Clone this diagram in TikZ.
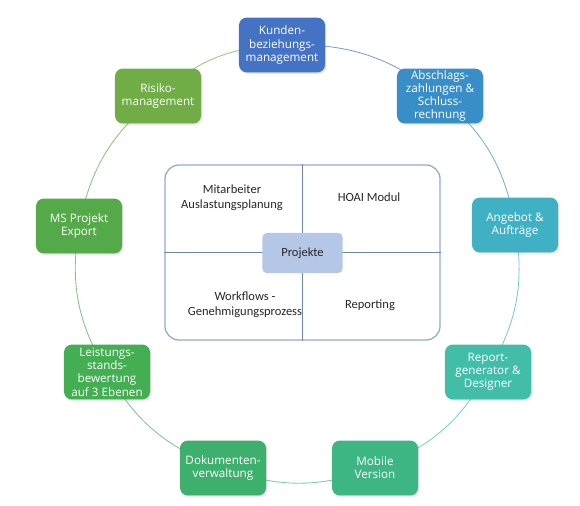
\documentclass[tikz,border=0pt]{standalone}
\usepackage{fontspec}
\setmainfont{Carlito}
\newfontfamily\modulfont{Open Sans}
\usepackage{xcolor}
\usepackage{tikz}
\usetikzlibrary{shadows,calc,backgrounds}
\definecolor{kundenblue}{RGB}{68, 114, 196}
\definecolor{abschlagblue}{RGB}{58, 142, 200}
\definecolor{angebotteal}{RGB}{64, 176, 196}
\definecolor{reportteal}{RGB}{66, 190, 168}
\definecolor{mobilegreen}{RGB}{62, 182, 132}
\definecolor{dokumentgreen}{RGB}{60, 176, 108}
\definecolor{leistunggreen}{RGB}{68, 174, 82}
\definecolor{msgreen}{RGB}{84, 170, 72}
\definecolor{risikogreen}{RGB}{112, 173, 71}
\definecolor{panelblue}{RGB}{143, 170, 215}
\definecolor{dividerslate}{RGB}{110, 135, 165}
\definecolor{projektblue}{RGB}{180, 199, 231}
\definecolor{textgray}{RGB}{38, 38, 38}

\begin{document}
\begin{tikzpicture}[x=0.025cm, y=-0.025cm,
    modul/.style={fill=#1, rounded corners=5.5pt, minimum width=2.15cm, minimum height=1.37cm,
        inner sep=1pt, align=center, text=white, font=\modulfont\fontsize{8.3}{9.4}\selectfont,
        drop shadow={opacity=0.25, shadow xshift=0.8pt, shadow yshift=-0.8pt}},
    ring/.style={line width=0.6pt},
    panel/.style={draw=panelblue, line width=0.9pt, rounded corners=0.35cm,
        minimum width=6.875cm, minimum height=4.375cm},
    divider/.style={draw=dividerslate, line width=0.7pt},
    innertext/.style={align=center, text=textgray, font=\fontsize{8.9}{10.5}\selectfont},
    kern/.style={fill=projektblue, rounded corners=3pt, minimum width=2cm, minimum height=1cm,
        text=textgray, font=\fontsize{8.9}{10.5}\selectfont}]
    \useasboundingbox (0,0) rectangle (580,506);

    % ring of modules
    \node[modul=kundenblue] (kunden) at (282, 45) {Kunden-\\beziehungs-\\management};
    \node[modul=abschlagblue] (abschlag) at (440, 96) {Abschlags-\\zahlungen \&\\Schluss-\\rechnung};
    \node[modul=angebotteal] (angebot) at (515, 225) {Angebot \&\\Aufträge};
    \node[modul=reportteal] (report) at (488, 372) {Report-\\generator \&\\Designer};
    \node[modul=mobilegreen] (mobile) at (375, 468) {Mobile\\Version};
    \node[modul=dokumentgreen] (dokument) at (223, 468) {Dokumenten-\\verwaltung};
    \node[modul=leistunggreen] (leistung) at (107, 372) {Leistungs-\\stands-\\bewertung\\auf 3 Ebenen};
    \node[modul=msgreen] (msprojekt) at (79, 226) {MS Projekt\\Export};
    \node[modul=risikogreen] (risiko) at (158, 96) {Risiko-\\management};

    \begin{scope}[on background layer]
    \foreach \from/\to/\col in {kunden/abschlag/kundenblue, abschlag/angebot/abschlagblue,
        angebot/report/angebotteal, report/mobile/reportteal, mobile/dokument/mobilegreen,
        dokument/leistung/dokumentgreen, leistung/msprojekt/leistunggreen,
        msprojekt/risiko/msgreen, risiko/kunden/risikogreen}
        \draw[ring, draw=\col!70] (\from.center) to[bend left=20] (\to.center);
    \end{scope}

    % inner panel
    \node[panel] (panel) at (302.5, 252.5) {};
    \draw[divider] (panel.north) -- (panel.south);
    \draw[divider] (panel.west) -- (panel.east);
    \node[kern] (projekte) at (302.5, 253) {Projekte};

    \node[innertext] (mitarbeiter) at (232, 198) {Mitarbeiter\\Auslastungsplanung};
    \node[innertext] (hoai) at (369, 197) {HOAI Modul};
    \node[innertext] (workflows) at (245, 305) {Workflows -\\Genehmigungsprozess};
    \node[innertext] (reporting) at (370, 305) {Reporting};
\end{tikzpicture}
\end{document}
